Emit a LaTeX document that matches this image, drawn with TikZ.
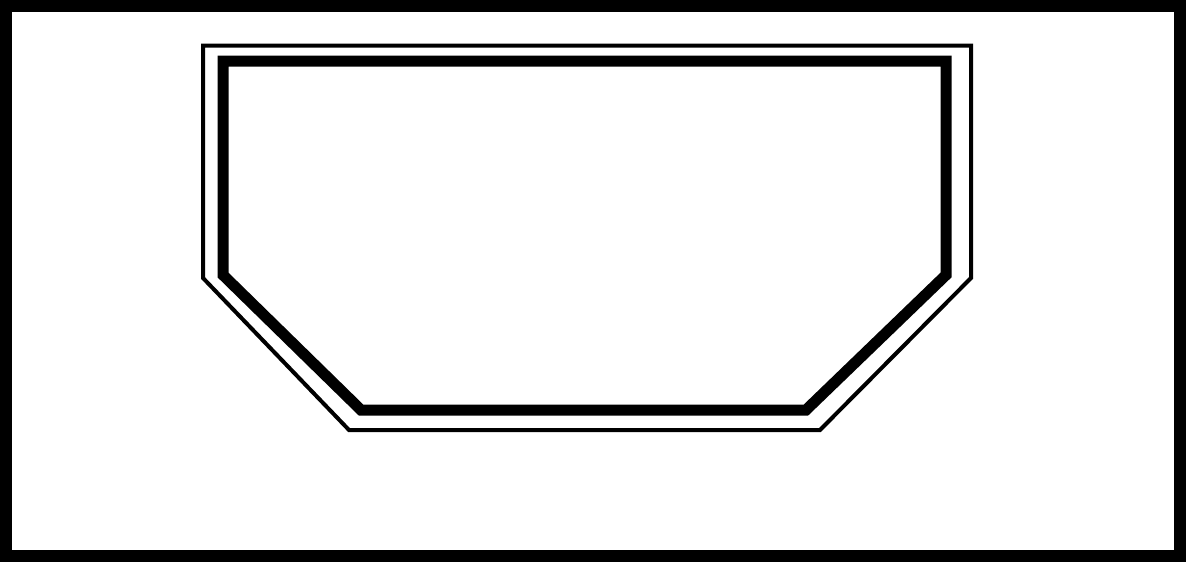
\documentclass[tikz,border=0pt]{standalone}
\begin{document}
\begin{tikzpicture}[x=1pt, y=-1pt, line join=miter]
        \useasboundingbox (0,0) rectangle (1187,562);
        \draw[line width=12] (6,6) rectangle (1180,556);
        \draw[line width=4] (203,45.5) -- (971,45.5) -- (971,278) -- (820,430) -- (349,430) -- (203,278) -- cycle;
        \draw[line width=11] (223,61) -- (946,61) -- (946,275) -- (806,410) -- (361,410) -- (223,275) -- cycle;
    \end{tikzpicture}
\end{document}
